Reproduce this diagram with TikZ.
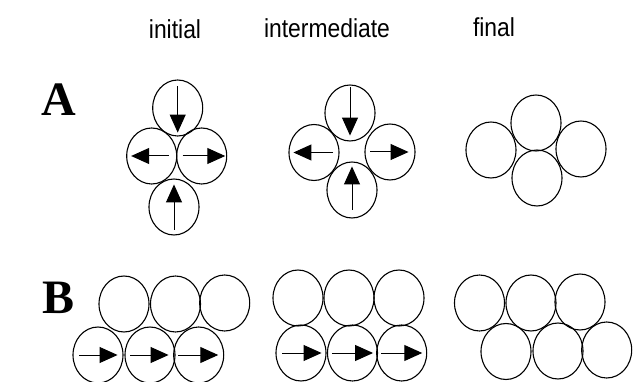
\documentclass[tikz,border=0pt]{standalone}
\usepackage{fontspec}
\setmainfont{Liberation Serif}
\setsansfont{Liberation Sans}
\usetikzlibrary{shapes.geometric,arrows.meta}
\tikzset{
  ball/.style={draw, ellipse, line width=1.1pt, minimum width=50pt, minimum height=56pt, inner sep=0pt},
  arr/.style={line width=1pt, -{Triangle[length=18pt,width=16pt]}},
  collabel/.style={font=\sffamily\fontsize{26}{26}\selectfont, xscale=0.88},
  rowlabel/.style={font=\bfseries\fontsize{48}{48}\selectfont}
}
\begin{document}
\begin{tikzpicture}[x=1pt,y=-1pt]
\useasboundingbox (0,0) rectangle (635,382);
% labels
\node[collabel] (l1) at (175,29) {initial};
\node[collabel] (l2) at (327,28) {intermediate};
\node[collabel] (l3) at (494,27) {final};
\node[rowlabel] (la) at (59,100) {A};
\node[rowlabel] (lb) at (59,298) {B};
% A initial
\node[ball] (ait) at (177.7,108) {};
\node[ball] (ail) at (151.7,156) {};
\node[ball] (air) at (201.7,156) {};
\node[ball] (aib) at (174,207) {};
\draw[arr] ([yshift=-7pt]ait.north) -- ([yshift=4pt]ait.south);
\draw[arr] ([xshift=17pt]ail.center) -- ([xshift=5pt]ail.west);
\draw[arr] ([xshift=-19pt]air.center) -- ([xshift=-2pt]air.east);
\draw[arr] ([yshift=6pt]aib.south) -- ([yshift=-6pt]aib.north);
% A intermediate
\node[ball] (amt) at (350,113) {};
\node[ball] (aml) at (314,152.5) {};
\node[ball] (amr) at (390,152) {};
\node[ball] (amb) at (352,190) {};
\draw[arr] ([yshift=-3pt]amt.north) -- ([yshift=6pt]amt.south);
\draw[arr] ([xshift=19pt]aml.center) -- ([xshift=5pt]aml.west);
\draw[arr] ([xshift=-20pt]amr.center) -- ([xshift=-7pt]amr.east);
\draw[arr] ([yshift=9pt]amb.south) -- ([yshift=-5pt]amb.north);
% A final
\node[ball] (aft) at (536,123) {};
\node[ball] (afl) at (491,150) {};
\node[ball] (afr) at (581,149) {};
\node[ball] (afb) at (537,178) {};
% B initial
\node[ball] (bit1) at (124,304) {};
\node[ball] (bit2) at (175.5,304) {};
\node[ball] (bit3) at (224.7,303) {};
\node[ball] (bib1) at (98,355) {};
\node[ball] (bib2) at (150,355) {};
\node[ball] (bib3) at (198.7,355) {};
\draw[arr] ([xshift=7pt]bib1.west) -- ([xshift=-6pt]bib1.east);
\draw[arr] ([xshift=6pt]bib2.west) -- ([xshift=-7pt]bib2.east);
\draw[arr] ([xshift=5pt]bib3.west) -- ([xshift=-6pt]bib3.east);
% B intermediate
\node[ball] (bmt1) at (298,298) {};
\node[ball] (bmt2) at (349,298) {};
\node[ball] (bmt3) at (399,298) {};
\node[ball] (bmb1) at (301,353) {};
\node[ball] (bmb2) at (352.5,353) {};
\node[ball] (bmb3) at (401.7,353) {};
\draw[arr] ([xshift=7pt]bmb1.west) -- ([xshift=-5pt]bmb1.east);
\draw[arr] ([xshift=5pt]bmb2.west) -- ([xshift=-5pt]bmb2.east);
\draw[arr] ([xshift=5pt]bmb3.west) -- ([xshift=-5pt]bmb3.east);
% B final
\node[ball] (bft1) at (479.5,303) {};
\node[ball] (bft2) at (531,303) {};
\node[ball] (bft3) at (580,302) {};
\node[ball] (bfb1) at (506,351.5) {};
\node[ball] (bfb2) at (558,351) {};
\node[ball] (bfb3) at (606.7,350) {};
\end{tikzpicture}
\end{document}
